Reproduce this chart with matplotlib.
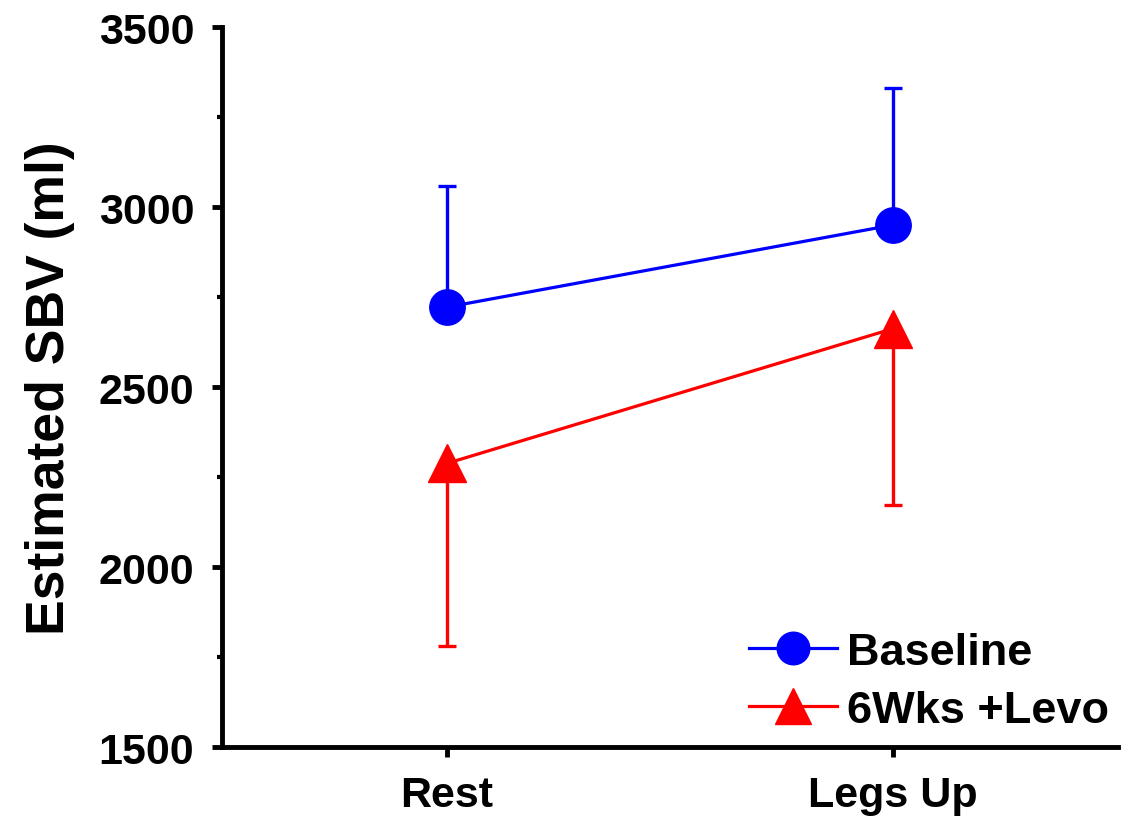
import matplotlib
matplotlib.use("Agg")
import matplotlib.pyplot as plt
from matplotlib.ticker import MultipleLocator

categories = ["Rest", "Legs Up"]
baseline = [2722, 2950]
baseline_err_up = [335, 380]
levo = [2288, 2662]
levo_err_down = [507, 491]
yticks = [1500, 2000, 2500, 3000, 3500]

plt.rcParams['font.family'] = ['Liberation Sans', 'DejaVu Sans']
plt.rcParams['font.weight'] = 'bold'

fig = plt.figure(figsize=(11.3, 8.2), dpi=100)
ax = fig.add_axes([222/1130, 1-748/820, (1118-222)/1130, (748-28)/820])

x = list(range(len(categories)))
blue = '#0000ff'
red = '#ff0000'
ax.errorbar(x, baseline, yerr=[[0]*2, baseline_err_up], fmt='none', ecolor=blue,
            capsize=6.5, capthick=2.4, elinewidth=2.4, zorder=2)
ax.errorbar(x, levo, yerr=[levo_err_down, [0]*2], fmt='none', ecolor=red,
            capsize=6.5, capthick=2.4, elinewidth=2.4, zorder=2)
ax.plot(x, baseline, color=blue, lw=2.3, marker='o', ms=25.5, label='Baseline', zorder=3)
ax.plot(x, levo, color=red, lw=2.3, marker='^', ms=28, label='6Wks +Levo', zorder=3)

ax.set_xlim(-0.505, 1.505)
ax.set_ylim(1500, 3500)
ax.set_xticks(x)
ax.set_xticklabels(categories)
ax.set_yticks(yticks)
ax.yaxis.set_minor_locator(MultipleLocator(250))

for s in ['top', 'right']:
    ax.spines[s].set_visible(False)
for s in ['left', 'bottom']:
    ax.spines[s].set_linewidth(3.5)

ax.tick_params(axis='both', which='major', direction='out', length=7, width=3.5,
               labelsize=31)
ax.tick_params(axis='y', which='major', pad=13)
ax.tick_params(axis='x', which='major', pad=13)
ax.tick_params(axis='y', which='minor', direction='out', length=3.5, width=3)
for lab in ax.get_xticklabels() + ax.get_yticklabels():
    lab.set_fontweight('bold')

ax.set_ylabel('Estimated SBV (ml)', fontsize=38.5, fontweight='bold', labelpad=17)

leg = ax.legend(loc='lower right', bbox_to_anchor=(1.0 + 7/896, 0.0), frameon=False,
                fontsize=32.5, handlelength=1.95,
                markerscale=0.92, borderaxespad=0.15, borderpad=0.2,
                handletextpad=0.22, labelspacing=0.38)
for t in leg.get_texts():
    t.set_fontweight('bold')

fig.savefig('out.png', dpi=100)
